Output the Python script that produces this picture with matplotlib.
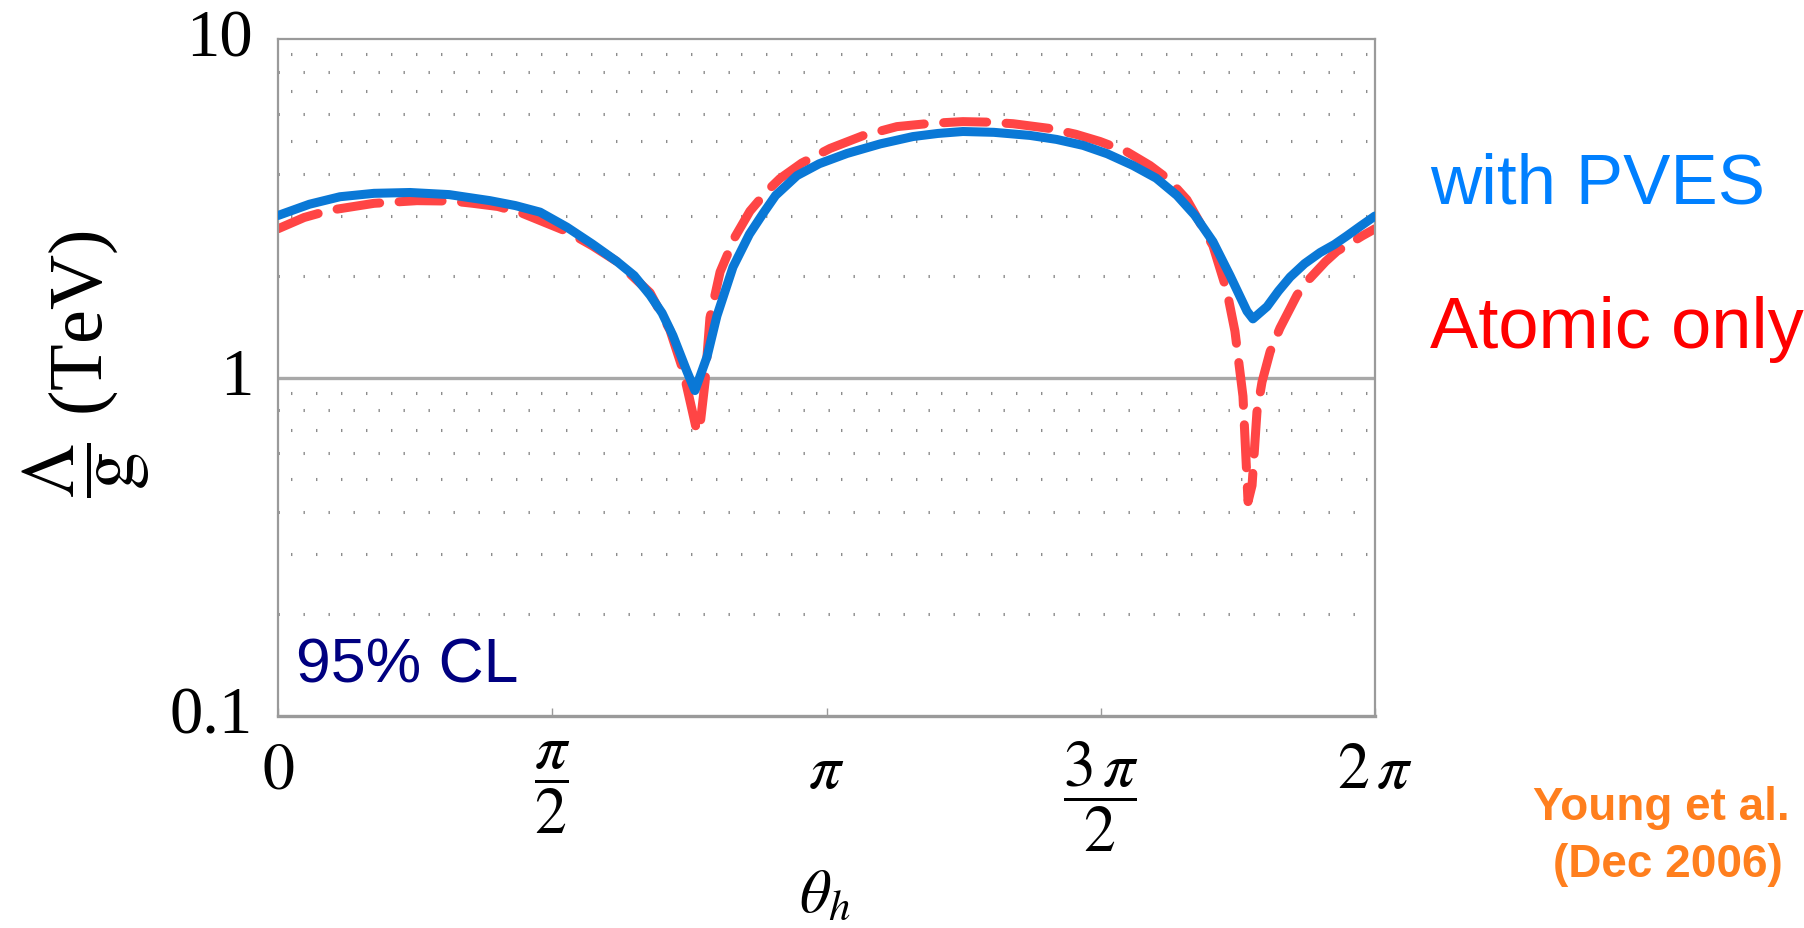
import numpy as np
import matplotlib
matplotlib.use("Agg")
import matplotlib.pyplot as plt

plt.rcParams['mathtext.fontset'] = 'stix'
plt.rcParams['lines.scale_dashes'] = False

# theta_h (rad) and Lambda/g (TeV)
theta_pves = [0.000, 0.180, 0.355, 0.550, 0.756, 0.980, 1.214, 1.360, 1.501, 1.655,
              1.800, 1.942, 2.040, 2.131, 2.200, 2.262, 2.343, 2.388, 2.457, 2.514,
              2.606, 2.700, 2.778, 2.850, 2.973, 3.100, 3.259, 3.450, 3.637, 3.780,
              3.923, 4.100, 4.307, 4.460, 4.611, 4.750, 4.897, 5.030, 5.149, 5.250,
              5.355, 5.453, 5.550, 5.584, 5.665, 5.730, 5.797, 5.880, 5.969, 6.050,
              6.122, 6.200, 6.283]
lam_pves = [3.01, 3.25, 3.42, 3.50, 3.52, 3.47, 3.33, 3.22, 3.08, 2.78,
            2.48, 2.20, 2.00, 1.75, 1.55, 1.33, 1.04, 0.915, 1.15, 1.52,
            2.12, 2.65, 3.05, 3.45, 3.95, 4.28, 4.59, 4.90, 5.15, 5.26,
            5.33, 5.30, 5.19, 5.05, 4.85, 4.58, 4.23, 3.88, 3.45, 3.02,
            2.52, 2.00, 1.57, 1.49, 1.62, 1.80, 1.98, 2.17, 2.34, 2.47,
            2.62, 2.80, 3.00]

theta_atomic = [0.000, 0.150, 0.298, 0.550, 0.796, 1.000, 1.117, 1.260, 1.403, 1.655,
                1.800, 1.942, 2.131, 2.245, 2.320, 2.372, 2.400, 2.417, 2.446, 2.474,
                2.532, 2.617, 2.703, 2.800, 2.875, 3.000, 3.162, 3.350, 3.545, 3.730,
                3.923, 4.070, 4.210, 4.422, 4.570, 4.708, 4.860, 4.994, 5.100, 5.206,
                5.355, 5.435, 5.481, 5.527, 5.556, 5.579, 5.607, 5.636, 5.682, 5.739,
                5.836, 5.893, 6.000, 6.065, 6.140, 6.210, 6.283]
lam_atomic = [2.75, 2.97, 3.12, 3.27, 3.33, 3.32, 3.27, 3.20, 3.05, 2.70,
              2.45, 2.20, 1.78, 1.38, 1.05, 0.80, 0.69, 0.72, 0.97, 1.50,
              2.05, 2.60, 3.10, 3.55, 3.87, 4.30, 4.75, 5.18, 5.51, 5.63,
              5.70, 5.68, 5.62, 5.44, 5.23, 4.98, 4.65, 4.23, 3.85, 3.35,
              2.45, 1.80, 1.37, 0.88, 0.43, 0.48, 0.79, 0.97, 1.19, 1.40,
              1.75, 1.92, 2.20, 2.36, 2.49, 2.62, 2.75]

xticks = [0, np.pi / 2, np.pi, 3 * np.pi / 2, 2 * np.pi]
xticklabels = [r'$0$', r'$\dfrac{\pi}{2}$', r'$\pi$', r'$\dfrac{3\,\pi}{2}$', r'$2\,\pi$']
yticks = [0.1, 1, 10]
yticklabels = ['0.1', '1', '10']

fig = plt.figure(figsize=(18.04, 9.29), dpi=100)
ax = fig.add_axes([278 / 1804, 212 / 929, 1097 / 1804, 677 / 929])

ax.set_yscale('log')
ax.set_xlim(0, 2 * np.pi)
ax.set_ylim(0.1, 10)

# dotted minor grid, staggered rows like the original
for i, v in enumerate([m * d for d in (0.1, 1) for m in range(2, 10)]):
    ax.axhline(v, color='#8c8c8c', lw=2.2, zorder=0,
               linestyle=((9 if i % 2 else 0), (1, 17)))
ax.axhline(1, color='#a8a8a8', lw=2.4, zorder=0)

ax.plot(theta_atomic, lam_atomic, color='#ff4545', lw=6.5,
        dashes=(31, 14), dash_capstyle='round', zorder=2)
ax.plot(theta_pves, lam_pves, color='#0a78d6', lw=6.5,
        solid_capstyle='round', solid_joinstyle='round', zorder=3)

for s in ax.spines.values():
    s.set_color('#9a9a9a')
    s.set_linewidth(1.6)
ax.spines['bottom'].set_linewidth(2.4)

ax.set_xticks(xticks)
ax.set_xticklabels(xticklabels, fontsize=46)
ax.tick_params(axis='x', direction='in', length=6, width=1, color='#9a9a9a', pad=16)
ax.set_yticks(yticks)
ax.set_yticklabels(yticklabels, fontsize=48, family='Liberation Serif')
ax.yaxis.set_minor_locator(matplotlib.ticker.NullLocator())
ax.tick_params(axis='y', length=0, pad=18)
for lab in ax.get_yticklabels():
    lab.set_verticalalignment('center')

fig.text(86 / 1804, 0.608, r'$\dfrac{\Lambda}{\mathrm{g}}$ (TeV)', rotation=90,
         fontsize=55, family='Liberation Serif', ha='center', va='center')
fig.text(825 / 1804, (929 - 866) / 929, r'$\theta_h$', fontsize=44, ha='center', va='top')

fig.text(296 / 1804, (929 - 683) / 929, '95% CL', color='#000080', fontsize=45,
         family='Liberation Sans', ha='left', va='baseline')
fig.text(1430 / 1804, (929 - 203) / 929, 'with PVES', color='#0080ff', fontsize=51,
         family='Liberation Sans', ha='left', va='baseline')
fig.text(1430 / 1804, (929 - 348) / 929, 'Atomic only', color='#ff0000', fontsize=52,
         family='Liberation Sans', ha='left', va='baseline')
fig.text(1790 / 1804, (929 - 820) / 929, 'Young et al.', color='#ff7f1e', fontsize=33,
         family='Liberation Sans', weight='bold', ha='right', va='baseline')
fig.text(1783 / 1804, (929 - 877) / 929, '(Dec 2006)', color='#ff7f1e', fontsize=33,
         family='Liberation Sans', weight='bold', ha='right', va='baseline')

fig.savefig('out.png', dpi=100)
